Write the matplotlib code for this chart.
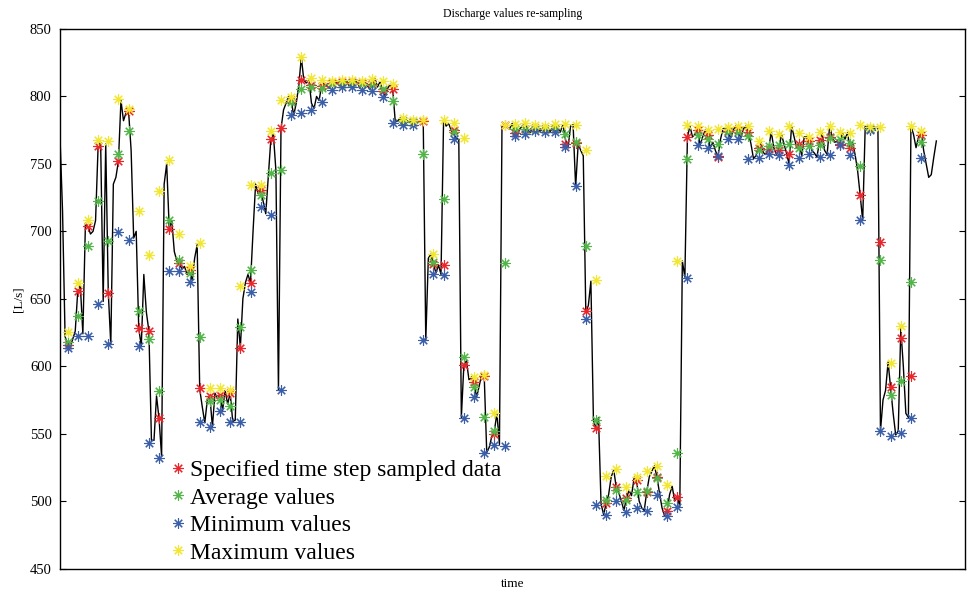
import numpy as np
import matplotlib
matplotlib.use("Agg")
import matplotlib.pyplot as plt

plt.rcParams['font.family'] = ['Liberation Serif', 'DejaVu Serif']

# raw discharge record [L/s], one reading every 2.5 min
discharge = [
    770, 715, 622,
    616, 614, 620, 626,   656, 660, 624, 705,   704, 698, 700, 708,   763, 766, 648, 765,
    655, 616, 735, 740,   752, 797, 782, 788,   789, 760, 695, 700,   628, 615, 668, 640,
    626, 545, 545, 578,   561, 533, 735, 750,   702, 708, 685, 678,   676, 672, 674, 668,
    671, 664, 680, 690,   583, 570, 558, 575,   578, 555, 580, 576,   579, 567, 582, 572,
    580, 559, 560, 635,   614, 650, 662, 668,   662, 700, 735, 728,   731, 722, 713, 740,
    768, 772, 745, 582,   776, 790, 795, 800,   797, 786, 795, 808,   829, 812, 810, 812,
    795, 791, 800, 797,   808, 810, 808, 806,   810, 809, 811, 808,   811, 809, 811, 807,
    811, 810, 812, 806,   810, 811, 808, 805,   809, 813, 807, 811,   804, 800, 806, 809,
    805, 781, 782, 784,   781, 779, 782, 782,   780, 779, 781, 782,   781, 619, 680, 683,
    676, 669, 675, 668,   782, 778, 780, 775,   772, 769, 768, 562,   601, 604, 590, 592,
    588, 577, 585, 594,   593, 536, 540, 548,   552, 565, 542, 778,   779, 777, 776, 780,
    773, 771, 776, 778, 780,   776, 773, 777, 778,   777, 774, 776, 778,   776, 774, 777, 779,
    776, 774, 779, 768,   762, 778, 779, 733,   765, 760, 756, 640,   645, 663, 560, 554,
    562, 498, 490, 498,   505, 518, 523, 510,   506, 500, 493, 502,   508, 504, 517, 515,
    500, 495, 493, 507,   518, 522, 526, 518,   506, 495, 489, 493,   505, 511, 500, 503,
    496, 678, 666, 770,   778, 770, 772, 775,   764, 770, 775, 771,   762, 766, 760, 755,
    768, 776, 777, 774,   769, 775, 778, 775,   769, 776, 778, 773,   765, 754, 756, 762,
    766, 758, 757, 761,   774, 762, 757, 760,   772, 765, 758, 750,   778, 770, 762, 765,
    756, 770, 770, 767,   760, 758, 755, 767,   773, 760, 757, 778,   770, 766, 767, 765,
    773, 768, 773, 762,   766, 757, 745, 727,   708, 778, 776, 777,   775, 777, 777, 552,
    575, 582, 603, 584,   565, 549, 552, 628,   600, 565, 562, 778,   772, 762, 770, 774,
    760, 750, 740, 742, 755, 767,
]

# re-sampled series, one value every 10 min
sampled = [
    615.6, 655.8, 704.0, 763.5, 654.6, 752.4, 788.9, 628.0, 626.2, 561.3,
    701.5, 676.5, 671.6, 583.5, 577.8, 579.0, 579.8, 613.8, 661.7, 730.9,
    768.4, 776.5, 797.0, 811.9, 808.7, 808.1, 810.0, 810.6, 810.6, 810.0,
    809.0, 803.7, 805.2, 781.5, 780.7, 781.5, 675.6, 674.8, 775.0, 600.7,
    588.4, 593.0, 549.6, 778.5, 772.8, 776.0, 776.7, 776.0, 776.0, 765.0,
    765.5, 641.0, 553.8, 498.3, 510.6, 502.0, 515.5, 507.0, 518.0, 492.6,
    502.8, 769.9, 775.0, 771.1, 755.0, 774.1, 775.0, 773.5, 762.0, 760.8,
    760.5, 757.6, 765.0, 766.9, 767.4, 769.9, 765.0, 762.0, 726.7, 776.0,
    692.1, 584.2, 621.0, 592.6, 771.1,
]
average = [
    618.0, 637.0, 689.0, 722.2, 692.6, 757.0, 774.1, 641.0, 619.8, 581.5,
    708.7, 679.0, 669.0, 621.3, 574.3, 575.3, 570.6, 629.1, 671.1, 726.7,
    743.5, 745.7, 795.8, 805.7, 806.9, 806.3, 809.4, 809.4, 810.0, 809.0,
    808.7, 805.7, 796.5, 782.0, 781.0, 757.6, 677.3, 724.2, 773.6, 606.9,
    584.7, 562.5, 552.0, 676.5, 776.0, 776.0, 776.0, 776.0, 776.0, 771.9,
    766.2, 688.9, 560.0, 500.7, 508.1, 500.7, 506.9, 507.5, 517.3, 498.3,
    535.6, 753.6, 771.1, 768.7, 764.4, 774.0, 773.5, 770.6, 760.5, 763.0,
    763.7, 765.0, 762.0, 763.2, 763.7, 769.4, 768.1, 765.4, 748.7, 776.0,
    679.0, 578.5, 589.1, 662.7, 766.2,
]
minimum = [
    613.6, 622.2, 622.7, 646.0, 616.3, 699.5, 693.3, 614.8, 543.2, 532.1,
    670.6, 670.4, 662.7, 558.3, 555.0, 566.9, 558.8, 558.8, 655.0, 718.0,
    712.4, 582.2, 785.9, 787.7, 790.1, 795.8, 805.0, 806.9, 806.9, 805.0,
    804.4, 799.5, 780.5, 779.0, 778.5, 619.3, 668.7, 667.4, 768.1, 561.3,
    576.8, 535.3, 541.5, 540.7, 770.4, 772.4, 774.3, 774.0, 774.0, 762.4,
    733.3, 634.8, 497.0, 489.6, 500.2, 492.0, 494.6, 492.8, 504.4, 489.0,
    495.6, 665.7, 763.7, 762.0, 755.6, 768.7, 768.7, 753.9, 754.6, 757.0,
    756.3, 748.9, 754.6, 757.6, 755.0, 756.8, 764.0, 756.3, 708.1, 774.8,
    552.1, 548.4, 550.6, 561.3, 754.3,
]
maximum = [
    625.4, 661.7, 708.1, 767.4, 766.7, 797.8, 790.9, 715.0, 682.2, 729.6,
    753.1, 698.3, 674.3, 691.3, 583.5, 583.5, 582.2, 659.5, 734.6, 734.6,
    774.3, 797.6, 799.5, 829.1, 813.9, 811.9, 811.1, 811.9, 811.9, 811.4,
    813.2, 811.1, 809.4, 784.2, 782.2, 782.2, 683.0, 782.7, 780.2, 769.4,
    592.1, 593.8, 565.0, 779.0, 779.8, 780.6, 778.5, 778.0, 779.3, 779.8,
    779.0, 760.0, 664.2, 518.5, 523.5, 510.6, 517.5, 522.2, 525.9, 511.6,
    678.0, 778.5, 777.8, 774.8, 776.1, 777.4, 777.8, 777.8, 766.9, 774.1,
    772.4, 778.0, 772.8, 769.9, 773.6, 777.8, 773.6, 773.1, 778.5, 777.0,
    777.0, 602.6, 629.6, 777.8, 774.3,
]

t_raw = np.arange(len(discharge)) * 2.5          # minutes
t_step = 7.5 + 10.0 * np.arange(len(sampled))    # minutes

fig = plt.figure(figsize=(9.72, 5.93), dpi=100)
ax = fig.add_axes([60 / 972, 1 - 568.5 / 593, 905 / 972, 539.5 / 593])

ax.plot(t_raw, discharge, color='black', lw=1.0, zorder=1)

star = (8, 2, 0)
kw = dict(ls='none', marker=star, ms=7.5, mew=0.8, zorder=3)
ax.plot(t_step, sampled, color='#e8262b', label='Specified time step sampled data', **kw)
ax.plot(t_step, average, color='#52b548', label='Average values', **kw)
ax.plot(t_step, minimum, color='#3a5ea8', label='Minimum values', **kw)
ax.plot(t_step, maximum, color='#f2e72e', label='Maximum values', **kw)

ax.set_xlim(0, 890.7)
ax.set_ylim(450, 850)
ax.set_yticks(np.arange(450, 851, 50))
ax.set_xticks([])
ax.tick_params(axis='y', direction='in', length=4, width=0.8, labelsize=10.5,
               pad=6, right=True, left=True)
for s in ax.spines.values():
    s.set_linewidth(1.0)

ax.set_title('Discharge values re-sampling', fontsize=8.5, pad=9)
ax.set_ylabel('[L/s]', fontsize=9.5, labelpad=4)
ax.set_xlabel('time', fontsize=9.5, labelpad=7)

leg = ax.legend(loc='lower left', bbox_to_anchor=(0.115, -0.004), frameon=False,
                fontsize=17, handlelength=0.6, handletextpad=0.2,
                labelspacing=0.25, borderaxespad=0.2, borderpad=0.1)

fig.savefig('out.png', dpi=100)
